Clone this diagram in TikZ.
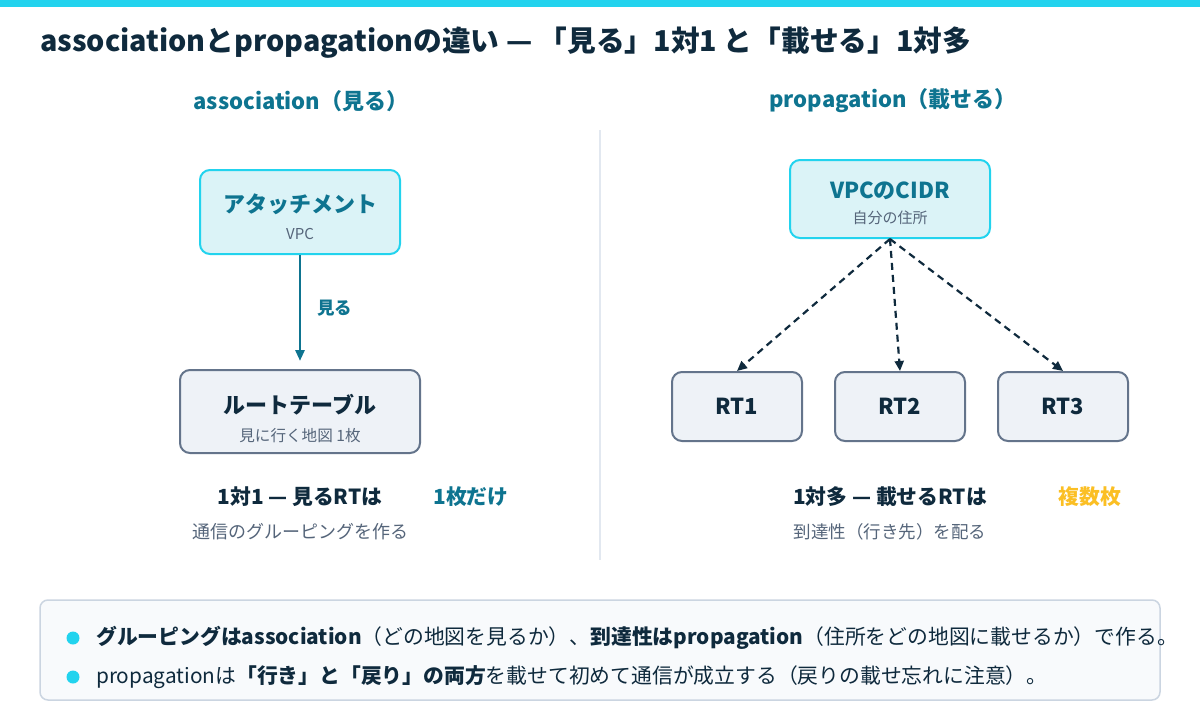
\documentclass[tikz,border=0pt]{standalone}
\usepackage{fontspec}
\setmainfont{Noto Sans CJK JP}
\usepackage{xcolor}
\usetikzlibrary{arrows.meta}
\newcommand\figfs[1]{\fontsize{#1}{#1}\selectfont}
\definecolor{figcyan}{HTML}{22D3EE}
\definecolor{figteal}{HTML}{0E7490}
\definecolor{figink}{HTML}{0F2A3D}
\definecolor{figgray}{HTML}{55657A}
\definecolor{figslate}{HTML}{64748B}
\definecolor{figpale}{HTML}{DBF3F7}
\definecolor{figmist}{HTML}{EEF2F7}
\definecolor{figamber}{HTML}{FBBF24}
\definecolor{figrule}{HTML}{E2E8F0}
\definecolor{fignote}{HTML}{F8FAFC}
\definecolor{fignoteline}{HTML}{CBD5E1}
\tikzset{
  hibox/.style={draw=figcyan,fill=figpale,line width=2pt,rounded corners=10pt},
  rtbox/.style={draw=figslate,fill=figmist,line width=2pt,rounded corners=10pt},
  headtxt/.style={font=\figfs{22}\bfseries,text=figteal,inner sep=0pt},
  maintxt/.style={font=\figfs{22}\bfseries,inner sep=0pt},
  subtxt/.style={font=\figfs{15},text=figgray,inner sep=0pt},
  sumtxt/.style={font=\figfs{20.8}\bfseries,text=figink,inner sep=0pt},
  notetxt/.style={font=\figfs{20.8},text=figink,inner sep=0pt,anchor=west},
}
\begin{document}
\begin{tikzpicture}[x=1pt,y=-1pt]
  \useasboundingbox (0,0) rectangle (1200,720);
  \fill[white] (0,0) rectangle (1200,720);
  \fill[figcyan] (0,0) rectangle (1200,7);
  \node[anchor=west,font=\figfs{28.7}\bfseries,text=figink,inner sep=0pt] (title) at (40,43)
    {associationとpropagationの違い — 「見る」1対1 と「載せる」1対多};
  % two columns
  \node[headtxt] (hassoc) at (301,101) {association（見る）};
  \node[headtxt] (hprop) at (893,101) {propagation（載せる）};
  \draw[figrule,line width=1.5pt] (600,130) -- (600,560);
  % association: one attachment, one route table
  \node[hibox,minimum width=200,minimum height=84] (att) at (300,212) {};
  \node[maintxt,text=figteal] at ([yshift=8]att.center) {アタッチメント};
  \node[subtxt] at ([yshift=-22]att.center) {VPC};
  \node[rtbox,minimum width=240,minimum height=83] (rt) at (300,411.5) {};
  \node[maintxt,text=figink] at ([yshift=7]rt.center) {ルートテーブル};
  \node[subtxt,font=\figfs{15.6}] at ([yshift=-24]rt.center) {見に行く地図 1枚};
  \draw[figteal,line width=2.8pt,-{Triangle[length=11pt,width=9pt]}] (att.south) -- ([yshift=8]rt.north)
    node[midway,right=16pt,font=\figfs{17.5}\bfseries,text=figteal,inner sep=0pt] {見る};
  \node[sumtxt] (sumA) at (300,497) {1対1 — 見るRTは};
  \node[sumtxt,text=figteal] (sumAx) at (471,497) {1枚だけ};
  \node[subtxt,font=\figfs{18}] (subA) at (300,532) {通信のグルーピングを作る};
  % propagation: one CIDR onto many route tables
  \node[hibox,minimum width=200,minimum height=78] (cidr) at (890,199) {};
  \node[maintxt,text=figteal] at ([yshift=8]cidr.center) {VPCのCIDR};
  \node[subtxt] at ([yshift=-19]cidr.center) {自分の住所};
  \foreach \i/\xx in {1/737,2/900,3/1063} {
    \node[rtbox,minimum width=130,minimum height=69] (rt\i) at (\xx,406.5) {};
    \node[maintxt,text=figink] at (rt\i.center) {RT\i};
    \draw[figink,line width=2.2pt,dash pattern=on 7pt off 5pt,-{Triangle[length=10pt,width=9pt]}]
      (cidr.south) -- (rt\i.north);
  }
  \node[sumtxt] (sumB) at (890,497) {1対多 — 載せるRTは};
  \node[sumtxt,text=figamber] (sumBx) at (1090,497) {複数枚};
  \node[subtxt,font=\figfs{17.5}] (subB) at (890,532) {到達性（行き先）を配る};
  % note
  \draw[fignoteline,fill=fignote,line width=1.5pt,rounded corners=8pt] (40,600) rectangle (1160,700);
  \foreach \yy in {638,677} {\fill[figcyan] (73,\yy) circle (6.5);}
  \node[notetxt] (note1) at (96,638)
    {\textbf{グルーピングはassociation}（どの地図を見るか）、\textbf{到達性はpropagation}（住所をどの地図に載せるか）で作る。};
  \node[notetxt] (note2) at (96,677)
    {propagationは\textbf{「行き」と「戻り」の両方}を載せて初めて通信が成立する（戻りの載せ忘れに注意）。};
\end{tikzpicture}
\end{document}
